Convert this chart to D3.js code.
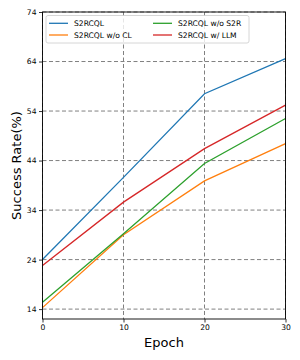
<!DOCTYPE html>
<html><head><meta charset="utf-8">
<script src="https://cdn.jsdelivr.net/npm/d3@7"></script>
<style>body{margin:0;background:#fff}svg{display:block}</style>
</head><body>
<svg id="c" width="300" height="360"></svg>
<script>
const epochs = [0, 10, 20, 30];
const seriesNames = ["S2RCQL", "S2RCQL w/o CL", "S2RCQL w/o S2R", "S2RCQL w/ LLM"];
const s2rcql = [24.0, 40.6, 57.5, 64.6];
const woCL = [14.3, 29.0, 39.9, 47.4];
const woS2R = [15.4, 29.2, 43.4, 52.5];
const wLLM = [22.8, 35.6, 46.4, 55.2];
const yTicks = [14, 24, 34, 44, 54, 64, 74];
const xTicks = [0, 10, 20, 30];
const colors = ["#1f77b4", "#ff7f0e", "#2ca02c", "#d62728"];
const allSeries = [s2rcql, woCL, woS2R, wLLM];

const svg = d3.select("#c");
const L = 42.5, R = 285.5, T = 12, B = 319;
const x = d3.scaleLinear().domain([0, 30]).range([L, R]);
const y = d3.scaleLinear().domain([12, 74]).range([B, T]);
const font = "DejaVu Sans, sans-serif";

// grid
const g = svg.append("g");
g.selectAll(".gy").data(yTicks).join("line")
  .attr("x1", L).attr("x2", R).attr("y1", d => y(d)).attr("y2", d => y(d))
  .attr("stroke", "#808080").attr("stroke-width", 1).attr("stroke-dasharray", "4,2.5");
g.selectAll(".gx").data(xTicks).join("line")
  .attr("y1", T).attr("y2", B).attr("x1", d => x(d)).attr("x2", d => x(d))
  .attr("stroke", "#808080").attr("stroke-width", 1).attr("stroke-dasharray", "4,2.5");

// lines
const line = d3.line().x((d, i) => x(epochs[i])).y(d => y(d));
allSeries.forEach((s, i) => {
  svg.append("path").datum(s).attr("d", line).attr("fill", "none")
    .attr("stroke", colors[i]).attr("stroke-width", 1.3);
});

// frame
svg.append("rect").attr("x", L).attr("y", T).attr("width", R - L).attr("height", B - T)
  .attr("fill", "none").attr("stroke", "#000").attr("stroke-width", 0.9);

// axes
const xa = svg.append("g").attr("transform", `translate(0,${B})`)
  .call(d3.axisBottom(x).tickValues(xTicks).tickSize(3.5).tickPadding(2.5).tickFormat(d3.format("d")));
const ya = svg.append("g").attr("transform", `translate(${L},0)`)
  .call(d3.axisLeft(y).tickValues(yTicks).tickSize(3.5).tickPadding(2.5).tickFormat(d3.format("d")));
[xa, ya].forEach(a => {
  a.select(".domain").remove();
  a.selectAll("text").attr("font-family", font).attr("font-size", 7.6).attr("fill", "#000");
  a.selectAll("line").attr("stroke", "#000").attr("stroke-width", 0.8);
});

// labels
svg.append("text").attr("x", (L + R) / 2).attr("y", 347).attr("text-anchor", "middle")
  .attr("font-family", font).attr("font-size", 13).text("Epoch");
svg.append("text").attr("transform", `translate(20.5,${(T + B) / 2}) rotate(-90)`)
  .attr("text-anchor", "middle").attr("font-family", font).attr("font-size", 13).text("Success Rate(%)");

// legend
const lg = svg.append("g");
lg.append("rect").attr("x", 46).attr("y", 15.5).attr("width", 203).attr("height", 27.5)
  .attr("rx", 2).attr("fill", "#fff").attr("fill-opacity", 0.8).attr("stroke", "#ccc").attr("stroke-width", 0.8);
const pos = [[49, 23.3], [49, 35], [153, 23.3], [153, 35]];
seriesNames.forEach((n, i) => {
  const [px, py] = pos[i];
  lg.append("line").attr("x1", px).attr("x2", px + 19).attr("y1", py).attr("y2", py)
    .attr("stroke", colors[i]).attr("stroke-width", 1.3);
  lg.append("text").attr("x", px + 25).attr("y", py + 2.7).attr("font-family", font)
    .attr("font-size", 7.6).text(n);
});
</script>
</body></html>
